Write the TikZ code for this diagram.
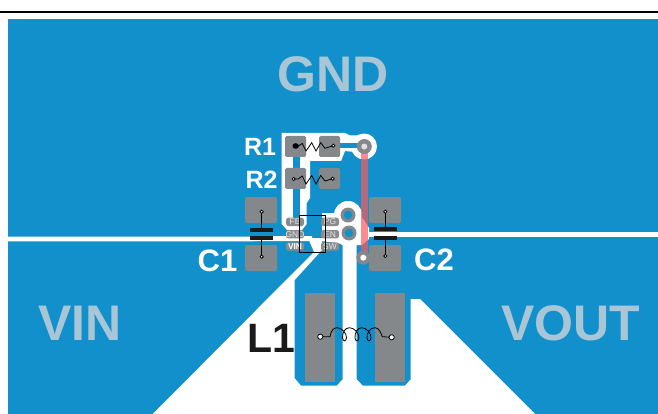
\documentclass[tikz,border=0pt]{standalone}
\usepackage{fontspec}
\setmainfont{Liberation Sans}
\definecolor{cu}{HTML}{1190CB}
\definecolor{padg}{HTML}{85888A}
\definecolor{pinl}{HTML}{8A8B8C}
\definecolor{net}{HTML}{A9C6D6}
\definecolor{jump}{HTML}{F85B5F}
\definecolor{ink}{HTML}{1A1A1A}
\tikzset{
  padrect/.style={fill=padg,rounded corners=1.5pt},
  gap/.style={fill=white},
  trace/.style={fill=cu},
  sym/.style={draw=black,line width=.8pt},
  plate/.style={fill=ink},
  term/.style={draw=black,fill=white,line width=.8pt},
  netlabel/.style={font=\bfseries\fontsize{50}{50}\selectfont,text=net,inner sep=0pt,anchor=base},
  reflabel/.style={font=\bfseries\fontsize{25}{25}\selectfont,text=white,inner sep=0pt,anchor=base},
  pinbox/.style={fill=pinl,rounded corners=2.5pt},
  pinlabel/.style={font=\fontsize{8.4}{8.4}\selectfont,text=black!10,inner sep=0pt},
}
\newcommand{\pinitem}[5]{%
  \fill[pinbox] (#1,#2) rectangle (#3,#2+8.4);
  \node[pinlabel] (#4) at ({(#1+#3)/2},#2+4.2) {#5};}
\begin{document}
\begin{tikzpicture}[x=1pt,y=-1pt]
\useasboundingbox (0,0) rectangle (658,414);
\fill[white] (0,0) rectangle (658,414);
\draw[black,line width=1.2pt] (0,12) -- (658,12);
\fill[cu] (8,19) rectangle (658,414);
% clearances
\fill[gap] (8,236.5) -- (250,236.5) -- (278,236) -- (312,236) -- (312,241) -- (278,241) -- (250,241.3) -- (8,241.3) -- cycle;
\fill[gap] (368,232) rectangle (658,237);
\fill[gap] (152.7,414) -- (314,252) -- (308,238) -- (322,238) -- (322,250) -- (294.7,280) -- (294.7,378.3) -- (301,385.7) -- (336.7,385.7) -- (342.7,379.3) -- (342.7,240) -- (356.7,240) -- (356.7,379.3) -- (362.7,385.7) -- (405,385.7) -- (410.7,379.3) -- (410.7,299) -- (420,299) -- (535,414) -- cycle;
\fill[gap] (281.7,133) -- (345,133) -- (350,135.5) -- (364,135.5) -- (364,153) -- (345,151) -- (341,161) -- (310,161) -- (310,198) -- (306.7,203) -- (306.7,224) -- (302,230) -- (287,230) -- (281.7,224) -- cycle;
\fill[gap] (364,146.5) circle[radius=13pt];
\fill[gap] (322,213) -- (337,213) -- (342,208) -- (348,240) -- (343,244) -- (322,241) -- cycle;
\fill[gap] (348,215) circle[radius=14pt];
\fill[gap] (349,233) circle[radius=14pt];
\fill[gap] (358,214) -- (364,220) -- (369,228) -- (369,239) -- (362,245) -- (352,245) -- cycle;
% copper traces
\fill[trace] (292.8,150) rectangle (299.5,220);
\fill[trace] (335,143) rectangle (360,148.5);
% jumper
\fill[jump,fill opacity=.7] (360.8,147) rectangle (367.8,258);
% pads
\fill[padrect] (285,136) rectangle (306,157);
\fill[padrect] (319,136) rectangle (340,157);
\fill[padrect] (285,168) rectangle (306,189);
\fill[padrect] (319,168) rectangle (340,189);
\fill[padrect] (245,197) rectangle (277,223);
\fill[padrect] (245,245) rectangle (277,271);
\fill[padrect] (369,197) rectangle (401,223);
\fill[padrect] (369,245) rectangle (401,271);
\fill[padg] (305,292.7) rectangle (335,381.7);
\fill[padg] (375,292.7) rectangle (405,381.7);
% vias
\fill[padg] (364.3,146.5) circle[radius=7.5pt];
\fill[black!12] (364.3,146.5) circle[radius=3pt];
\fill[padg] (363.3,257.7) circle[radius=7pt];
\fill[white] (363.3,257.7) circle[radius=3pt];
\fill[padg] (348,215) circle[radius=7.5pt];
\fill[cu] (348,215) circle[radius=4.2pt];
\fill[padg] (349,233) circle[radius=7.5pt];
\fill[cu] (349,233) circle[radius=4.2pt];
% IC pins
\pinitem{286}{217.7}{304}{pFB}{FB}
\pinitem{286}{230}{304}{pGND}{GND}
\fill[pinbox] (286,242.3) rectangle (304,250.7);
\node[pinlabel,font=\bfseries\fontsize{8.4}{8.4}\selectfont,text=white] (pVIN) at (295,246.5) {VIN};
\pinitem{321}{217.7}{339}{pPG}{PG}
\pinitem{321}{230}{339}{pEN}{EN}
\pinitem{321}{242.3}{339}{pSW}{SW}
\draw[black,line width=.8pt] (299.3,215) rectangle (325.7,252.5);
% R1 symbol
\fill[black] (295.7,146) ellipse[x radius=3.2pt,y radius=2.8pt];
\draw[sym,line join=miter] (296,146) -- (298.3,146) -- (302.3,143.5) -- (306,151) -- (311.7,142.7) -- (316,151) -- (320.7,142.7) -- (325,148.3) -- (333.3,145.7);
\draw[term] (333.3,145.7) circle[radius=1.6pt];
% R2 symbol
\draw[sym,line join=miter] (293.7,179) -- (298.3,179) -- (302.3,176) -- (306,184) -- (311.7,175.5) -- (316,184) -- (320.7,175.5) -- (325,181) -- (332.7,178.7);
\draw[term] (293.7,179) circle[radius=1.6pt];
\draw[term] (332.7,178.7) circle[radius=1.6pt];
% C1 symbol
\fill[plate] (250,227.7) rectangle (273,231.7);
\fill[plate] (250,236.3) rectangle (273,240.3);
\draw[sym] (261.7,211.7) -- (261.7,227.7);
\draw[sym] (261.7,240.3) -- (261.7,256.7);
\draw[term] (261.7,211.7) circle[radius=1.6pt];
\draw[term] (261.7,256.7) circle[radius=1.6pt];
% C2 symbol
\fill[plate] (373.7,227) rectangle (397,231);
\fill[plate] (373.7,235.7) rectangle (397,239.7);
\draw[sym] (385.3,211.7) -- (385.3,227);
\draw[sym] (385.3,239.7) -- (385.3,256);
\draw[term] (385.3,211.7) circle[radius=1.6pt];
\draw[term] (385.3,256) circle[radius=1.6pt];
% L1 symbol
\draw[sym] (320.3,336.7) -- (330,336.7)
  .. controls (331,330) and (334,327.7) .. (337.3,327.7)
  .. controls (341,327.7) and (347,333) .. (346.5,338)
  .. controls (346,341.5) and (343,342) .. (342.5,338)
  .. controls (342,333) and (345,327.7) .. (349.3,327.7)
  .. controls (354,327.7) and (359.5,333) .. (359,338)
  .. controls (358.5,341.5) and (355.5,342) .. (355,338)
  .. controls (354.5,333) and (357.5,327.7) .. (361.7,327.7)
  .. controls (366,327.7) and (371.5,333) .. (371,338)
  .. controls (370.5,341.5) and (367.5,342) .. (367,338)
  .. controls (366.5,333) and (370,327.7) .. (375,327.7)
  .. controls (379,327.7) and (381,333) .. (382.3,336.7) -- (391.7,337.3);
\draw[term] (320.3,336.7) circle[radius=2.6pt];
\draw[term] (391.7,337.3) circle[radius=2.6pt];
% labels
\node[netlabel] (gnd) at (333,92) {GND};
\node[netlabel] (vin) at (80,340) {VIN};
\node[netlabel] (vout) at (570.5,340) {VOUT};
\node[reflabel] (r1) at (260,156) {R1};
\node[reflabel] (r2) at (261.5,188.5) {R2};
\node[reflabel,font=\bfseries\fontsize{31}{31}\selectfont] (c1) at (217.5,271) {C1};
\node[reflabel,font=\bfseries\fontsize{31}{31}\selectfont] (c2) at (434,270) {C2};
\node[reflabel,font=\bfseries\fontsize{41}{41}\selectfont,text=ink] (l1) at (271,352.3) {L1};
\end{tikzpicture}
\end{document}
